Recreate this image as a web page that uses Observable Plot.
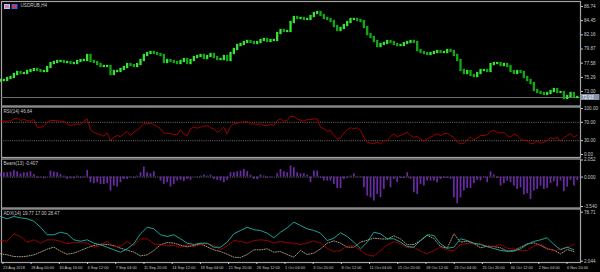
<!DOCTYPE html>
<html><head><meta charset="utf-8">
<script src="https://cdn.jsdelivr.net/npm/d3@7"></script>
<script src="https://cdn.jsdelivr.net/npm/@observablehq/plot@0.6"></script>
<style>
html,body{margin:0;padding:0;background:#000;}
#chart{position:relative;width:600px;height:272px;background:#000;overflow:hidden;}
#chart svg{display:block;}
</style></head><body><div id="chart"></div>
<script>
// ---------- data ----------
const symbolTitle = "USDRUB,H4";
const rsiTitle = "RSI(14) 46.64";
const bearsTitle = "Bears(13) -0.407";
const adxTitle = "ADX(14) 19.77 17.00 28.47";

const firstOpen = 74.70;
const closes = [
74.78,74.78,75.10,75.26,75.75,76.07,75.91,75.91,76.23,76.39,76.56,76.39,76.23,76.23,76.88,77.52,77.69,77.85,77.85,77.69,
77.69,77.52,77.52,77.85,78.01,78.01,78.82,77.85,77.69,77.36,77.04,77.04,77.04,75.75,76.23,76.23,76.56,76.88,77.36,77.20,
77.04,77.36,78.01,78.82,79.14,79.30,79.14,78.98,78.82,77.69,78.01,77.85,77.69,77.52,77.85,78.17,77.52,78.01,78.49,78.66,
78.82,78.33,78.66,78.98,78.49,78.17,78.17,78.66,78.01,79.14,79.79,80.43,80.60,80.92,81.08,80.92,80.76,80.92,81.24,81.40,
81.08,81.24,81.24,82.37,82.86,82.70,82.70,84.15,84.96,84.80,84.80,84.64,84.64,85.12,85.61,85.77,85.28,84.80,84.64,84.31,
83.50,82.86,83.18,83.67,84.15,84.64,84.64,84.47,84.31,83.34,82.21,81.73,81.08,80.27,80.60,80.76,81.08,80.92,80.60,80.43,
80.43,80.76,80.92,81.08,80.92,79.63,79.30,79.14,78.98,79.14,79.30,79.46,79.30,79.30,79.63,79.46,78.82,78.01,76.39,75.91,
76.23,75.59,75.42,75.91,76.39,76.39,76.23,77.36,77.52,77.52,77.20,77.36,77.04,76.23,75.91,76.23,76.07,75.26,74.78,74.29,
73.16,72.84,72.68,72.52,72.68,73.00,73.32,72.84,72.84,71.87,72.19,72.68,72.03,72.03
];
const lastPrice = 72.03;
const priceTicks = [86.74, 84.45, 82.16, 79.87, 77.58, 75.29, 73.00];

const rsi = [
72.4,72.4,72.4,72.8,77.2,79.3,73.9,76.1,73.9,72.4,76.1,59.3,59.3,60.9,70.2,73.9,73.9,73.3,72.4,72.4,
66.7,63.0,65.2,66.7,65.2,72.4,77.6,53.7,48.5,45.0,42.8,39.8,47.2,30.4,37.6,41.3,39.1,45.0,50.0,41.3,
48.5,53.7,59.3,66.7,66.7,68.0,65.2,60.9,55.9,46.3,46.3,45.0,43.5,42.8,53.7,43.5,41.3,55.9,59.3,57.2,
59.3,60.9,63.0,58.0,55.9,48.5,52.2,59.3,45.0,60.9,66.7,68.0,70.2,70.2,72.4,65.2,66.7,65.2,66.7,63.0,
63.0,65.2,63.0,73.9,77.6,72.4,73.9,82.6,82.6,77.6,
73.9,72.4,76.1,75.4,77.6,77.6,59.3,55.9,50.7,52.2,41.3,34.1,36.3,46.3,53.7,58.0,55.9,58.0,52.2,37.6,
26.7,24.6,23.3,26.7,23.3,30.4,30.4,39.1,45.0,39.1,41.3,45.0,48.5,41.3,37.6,39.1,34.1,28.9,34.1,37.6,
41.3,45.0,41.3,45.0,46.3,41.3,37.6,26.7,23.3,24.6,32.0,37.6,32.0,36.3,41.3,41.3,42.8,50.7,52.2,48.5,
46.3,48.5,41.3,37.6,45.0,41.3,34.1,30.4,30.4,23.3,24.6,28.9,24.6,26.7,30.4,36.3,34.1,37.6,28.9,36.3,
41.3,45.0,37.6,42.0
];
const rsiTicks = [100, 70, 30, 0];
const rsiLevels = [70, 30];

const bears = [
0.45,0.52,0.52,0.60,0.80,0.64,0.40,0.52,0.52,0.64,0.32,-0.16,-0.08,-0.20,0,0.72,0.60,0.52,0.32,0.12,
-0.28,-0.20,-0.20,0.12,-0.16,-0.08,0.80,-0.68,-0.80,-0.68,-0.88,-0.88,-0.80,-1.69,-1.08,-1.20,-0.68,-0.28,-0.28,-0.08,
-0.16,0.12,0.52,1.20,0.52,0.40,0.64,0,-0.48,-0.88,-0.68,-1.20,-0.88,-0.48,-0.40,-0.56,-0.28,-0.40,0,-0.08,
0.12,0.24,0.12,0.24,-0.28,-0.40,-0.48,-0.68,-0.40,0.52,0.52,0.64,0.72,0.92,0.64,0.24,-0.28,-0.32,0.24,0.12,
-0.16,-0.08,0,0.40,0.92,0.64,0.52,1.33,1.12,0.52,
0.40,0.40,0.24,-0.68,0.72,0.72,-0.16,-0.48,-0.48,-0.48,-0.88,-1.37,-1.37,-0.28,-0.16,0.12,0.40,-0.08,-0.08,-1.29,
-2.29,-2.49,-2.89,-2.09,-2.49,-1.49,-0.40,-1.29,-0.28,-0.68,-0.16,-0.16,0.52,-0.28,-1.89,-2.09,-0.88,-1.08,-0.48,-0.48,
-0.48,-0.68,-0.28,-0.16,-0.16,-0.28,-2.49,-3.21,-2.49,-1.69,-1.37,-1.37,-0.80,-0.40,-0.48,-0.08,-0.68,0.64,0.24,-0.16,
-1.08,-0.80,-0.48,-0.68,-1.08,-1.49,-1.29,-2.17,-2.01,-2.69,-1.69,-1.49,-1.08,-1.49,-1.37,-0.80,-0.56,-1.20,-0.48,-1.77,
-1.20,-0.40,-1.08,-0.41
];
const bearsTicks = [2.052, 0, -3.540];

// ADX lines sampled on every second bar
const adxMain = [
72.0,68.4,72.0,69.9,68.4,64.6,55.2,43.4,43.4,47.4,44.9,35.5,33.3,35.5,30.2,27.7,23.9,19.9,16.1,21.4,
29.3,44.9,55.2,52.7,43.4,40.7,43.4,37.1,30.2,28.2,30.2,30.2,23.9,23.9,31.8,44.9,50.1,55.2,51.2,50.1,
45.9,38.7,47.4,54.3,63.1,
57.9,52.7,50.1,45.9,34.4,38.0,46.5,40.7,31.8,21.4,31.8,47.4,44.9,37.1,37.1,31.8,25.0,23.9,34.4,43.4,
42.3,29.3,22.4,23.9,37.1,34.4,30.2,28.2,24.6,21.9,18.8,17.7,17.7,21.4,28.2,32.9,35.5,38.7,28.2,19.9,
23.9,19.8
];
const adxPlusDI = [
13.6,12.0,9.4,8.9,9.9,12.0,16.2,20.9,24.0,17.7,13.0,14.6,18.8,23.0,26.6,28.7,28.2,26.6,22.4,19.3,
16.2,10.4,12.0,18.8,27.7,31.3,30.3,27.1,24.5,26.6,29.2,24.5,19.8,17.2,13.0,8.3,7.8,12.5,19.8,19.8,
21.4,16.2,17.2,12.5,8.3,
18.8,12.5,14.6,21.4,30.3,33.9,30.3,24.0,24.0,31.8,34.9,38.1,37.0,36.5,41.7,37.0,27.7,28.2,34.4,42.3,
37.6,25.0,22.4,44.9,31.8,33.4,29.7,23.0,25.6,25.0,23.0,17.7,18.8,24.0,29.2,30.8,26.6,21.4,19.3,13.6,
20.4,17.0
];
const adxMinusDI = [
34.4,33.4,44.9,40.7,31.8,35.5,30.3,35.5,35.5,33.4,29.2,31.8,30.8,30.8,24.0,26.6,32.9,25.0,25.6,32.9,
26.6,37.0,37.0,29.2,27.7,26.1,26.6,24.0,27.7,25.0,27.7,29.7,26.6,20.4,26.1,34.4,32.9,30.3,34.4,35.5,
34.4,30.3,32.9,30.8,30.3,
28.2,30.3,33.9,30.3,22.4,17.2,18.8,25.6,26.1,18.8,12.0,9.9,18.8,27.7,32.9,29.2,23.0,23.5,17.7,13.6,
18.8,24.0,19.3,18.8,28.2,29.7,29.2,29.2,25.6,25.0,28.2,22.4,20.9,18.8,18.8,26.1,29.2,22.4,18.3,21.4,
24.0,28.5
];
const adxTicks = [78.71, 2.044];

const xTickLabels = ["23 Aug 2018","28 Aug 00:00","30 Aug 16:00","4 Sep 12:00","7 Sep 04:00","11 Sep 20:00",
"14 Sep 12:00","19 Sep 04:00","21 Sep 20:00","26 Sep 12:00","1 Oct 04:00","3 Oct 20:00","8 Oct 12:00",
"11 Oct 04:00","15 Oct 20:00","18 Oct 12:00","23 Oct 04:00","25 Oct 20:00","30 Oct 12:00","2 Nov 04:00","6 Nov 20:00"];
const barsPerLabel = 8.46; // 16 H4 bars per label, 2 H4 bars per sample

// ---------- drawing ----------
const FONT = "'Liberation Sans', Arial, sans-serif";
const TXT = "#c8c8c8";
const BORDER = "#a4a4a4";
const FS = "4.6px";
const xScale = {domain: [0, closes.length - 1], range: [0, 576.7], axis: null};

function panel(h, mt, mb, yOpts, marks) {
  return Plot.plot({
    width: 600, height: h,
    marginLeft: 1, marginRight: 20, marginTop: mt, marginBottom: mb,
    style: {background: "#000", color: TXT, fontFamily: FONT, fontSize: FS, overflow: "visible"},
    x: xScale,
    y: {...yOpts, axis: null},
    marks
  });
}
const yAxis = (ticks, fmt) => Plot.axisY(ticks, {anchor: "right", tickSize: 2, tickPadding: 1.5, tickFormat: fmt, fill: TXT, stroke: TXT});
const title = (t, dx) => Plot.text([t], {frameAnchor: "top-left", dx, dy: 2.5, textAnchor: "start", lineAnchor: "top", fill: TXT});

const candles = closes.map((c, i) => ({i, open: i ? closes[i - 1] : firstOpen, close: c}));

const main = panel(106, 1, 0.5, {domain: [73.00, 86.74], range: [91, 6]}, [
  Plot.frame({stroke: BORDER, strokeWidth: 1.2}),
  Plot.ruleY([lastPrice], {stroke: "#6c6c6c"}),
  Plot.ruleX(candles, {x: "i", y1: "open", y2: "close", stroke: "#0c8c0c", strokeWidth: 1, strokeLinecap: "square", dy: 0}),
  Plot.ruleX(candles.filter(d => d.close < d.open), {x: "i", y1: "open", y2: "close", stroke: "#12a812", strokeWidth: 2.3, strokeLinecap: "square"}),
  Plot.ruleX(candles.filter(d => d.close >= d.open), {x: "i", y1: "open", y2: "close", stroke: "#36e436", strokeWidth: 2.3, strokeLinecap: "square"}),
  yAxis(priceTicks, d => d.toFixed(2)),
  title(symbolTitle, 19)
]);

const rsiPlot = panel(52, 0.5, 1, {domain: [0, 100], range: [48, 2]}, [
  Plot.frame({stroke: BORDER, strokeWidth: 1.2}),
  Plot.ruleY(rsiLevels, {stroke: "#8a8a8a", strokeDasharray: "1,1.2", strokeWidth: 0.8}),
  Plot.lineY(rsi, {stroke: "#b00000", strokeWidth: 0.9}),
  yAxis(rsiTicks, d => d.toFixed(2)),
  title(rsiTitle, 2)
]);

const bearsPlot = panel(50, 0.5, 0.5, {domain: [-3.540, 2.052], range: [48, 1.5]}, [
  Plot.frame({stroke: BORDER, strokeWidth: 1.2}),
  Plot.ruleY([0], {stroke: "#8a8a8a", strokeDasharray: "1,1.2", strokeWidth: 0.8}),
  Plot.ruleX(bears, {x: (d, i) => i, y1: 0, y2: d => d, stroke: "#6a2aa8", strokeWidth: 1.7}),
  yAxis(bearsTicks, d => d.toFixed(3)),
  title(bearsTitle, 2)
]);

const xTickIdx = xTickLabels.map((_, k) => 0.5 + k * barsPerLabel);
const xLabelMap = new Map(xTickIdx.map((v, k) => [v, xTickLabels[k]]));
const adxPlot = panel(64, 0.5, 10, {domain: [2.044, 78.71], range: [52.7, 3.7]}, [
  Plot.frame({stroke: BORDER, strokeWidth: 1.2}),
  Plot.lineY(adxPlusDI, {x: (d, i) => 2 * i, y: d => d, stroke: "#b8a888", strokeDasharray: "1,1.4", strokeWidth: 0.9}),
  Plot.lineY(adxMinusDI, {x: (d, i) => 2 * i, y: d => d, stroke: "#d00000", strokeDasharray: "1,1.2", strokeWidth: 0.9}),
  Plot.lineY(adxMain, {x: (d, i) => 2 * i, y: d => d, stroke: "#20b2aa", strokeWidth: 0.9}),
  yAxis(adxTicks, d => (d === 2.044 ? "2.044" : d.toFixed(2))),
  Plot.axisX(xTickIdx, {anchor: "bottom", tickSize: 2, tickPadding: 1.5, tickFormat: d => xLabelMap.get(d), textAnchor: "start", dx: 0.8, fill: TXT, stroke: TXT, fontSize: "3.9px"}),
  title(adxTitle, 2)
]);

const chart = document.getElementById("chart");
[main, rsiPlot, bearsPlot, adxPlot].forEach(p => chart.appendChild(p));

// current price label on the right axis and symbol icons
const svgMain = d3.select(main);
const yLast = main.scale("y").apply(lastPrice);
svgMain.append("rect").attr("x", 580.5).attr("y", yLast - 3).attr("width", 19).attr("height", 6).attr("fill", "#8493a8");
svgMain.append("text").attr("x", 582).attr("y", yLast).attr("dy", "0.35em").attr("text-anchor", "start")
  .attr("fill", "#ffffff").text(lastPrice.toFixed(2));
svgMain.append("rect").attr("x", 4).attr("y", 4).attr("width", 6).attr("height", 5).attr("fill", "#b8c0f0");
svgMain.append("rect").attr("x", 5.5).attr("y", 5).attr("width", 1).attr("height", 3).attr("fill", "#e04060");
svgMain.append("rect").attr("x", 7.5).attr("y", 5).attr("width", 1).attr("height", 3).attr("fill", "#e04060");
svgMain.append("rect").attr("x", 11.5).attr("y", 4).attr("width", 6).attr("height", 5).attr("fill", "#4060e0");
svgMain.append("rect").attr("x", 13).attr("y", 5).attr("width", 3).attr("height", 3).attr("fill", "#e03030");
</script>
</body></html>
